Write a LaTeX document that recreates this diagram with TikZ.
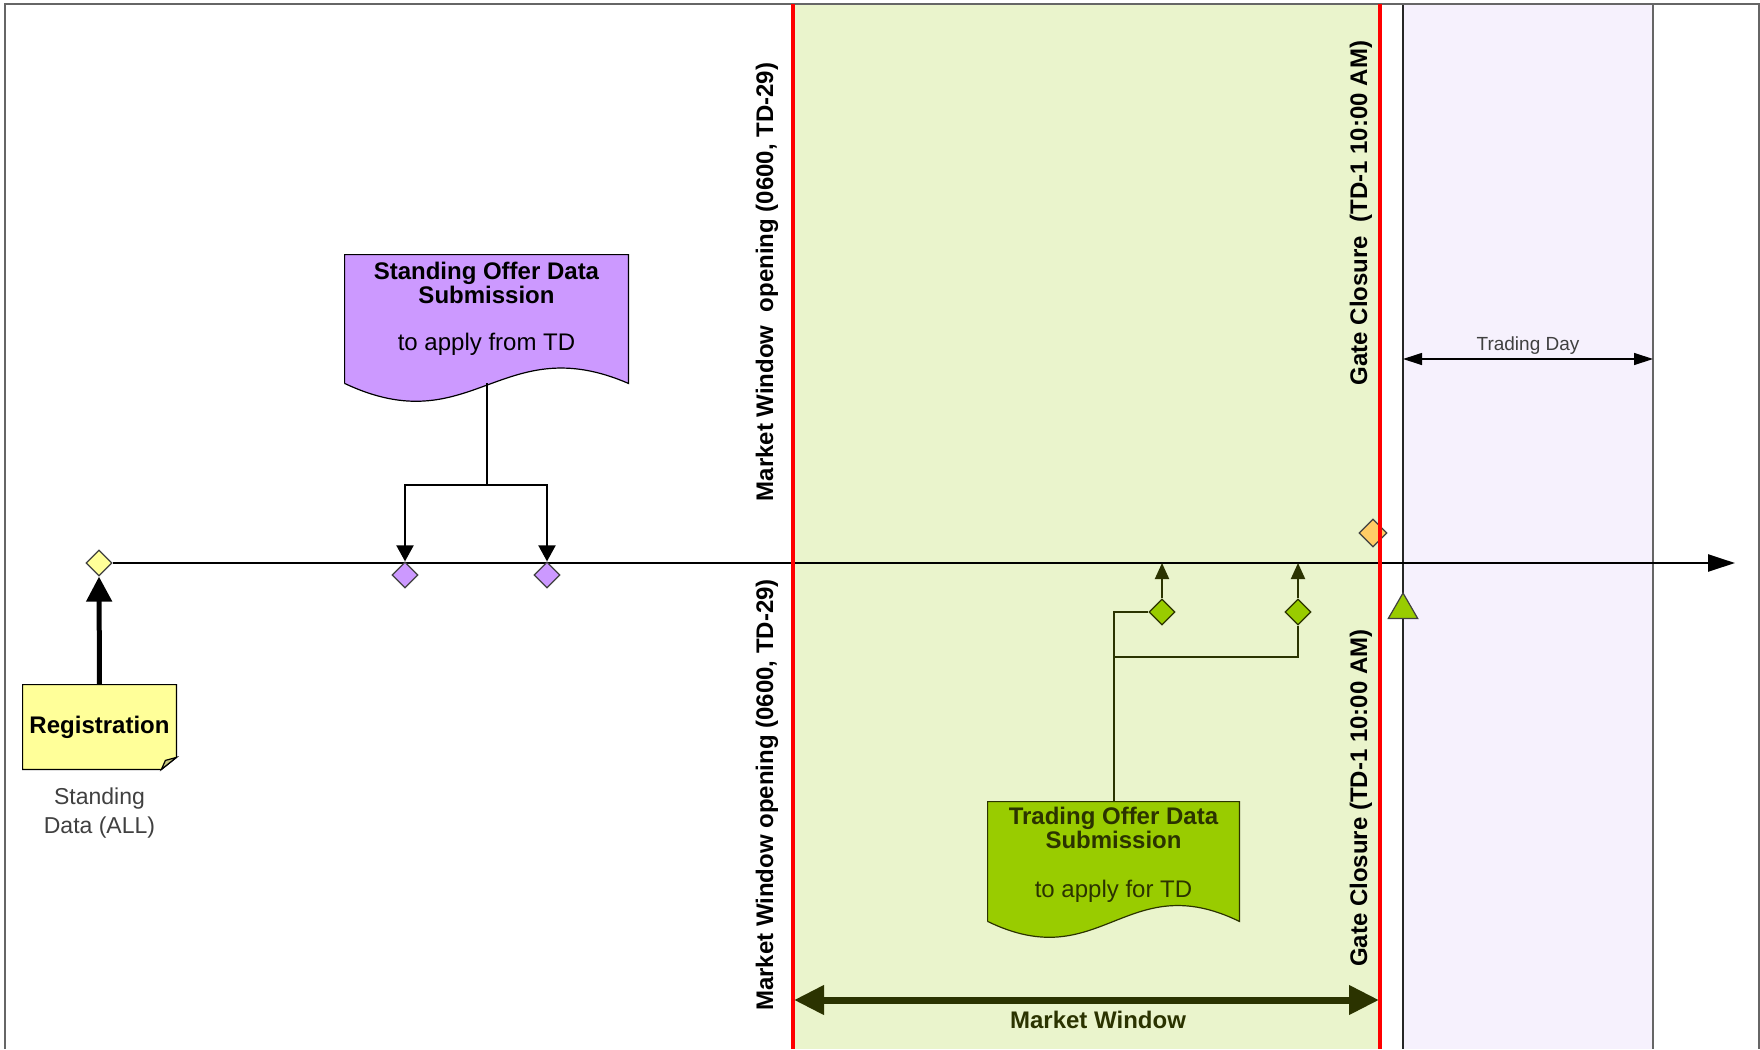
\documentclass[tikz,border=0pt]{standalone}
\usepackage{fontspec}
\setmainfont{Liberation Sans}
\usepackage{xcolor}
\usetikzlibrary{shapes,calc,arrows.meta,positioning}
\definecolor{mwgreen}{HTML}{EAF4CC}
\definecolor{tdpurple}{HTML}{F6F1FD}
\definecolor{mpurple}{HTML}{CC99FF}
\definecolor{mlime}{HTML}{99CC00}
\definecolor{myellow}{HTML}{FFFF99}
\definecolor{morange}{HTML}{FFCC66}
\definecolor{mdark}{HTML}{2B3300}
\definecolor{mgray}{HTML}{404040}
\tikzstyle{l2}=[line width=0.6pt]
\tikzstyle{ms}=[diamond, draw=mgray, l2, inner sep=0pt, minimum width=13pt, minimum height=13pt]
\tikzstyle{vlabel}=[rotate=90, font=\fontsize{12}{14}\selectfont\bfseries]
\tikzstyle{doctext}=[align=center, inner sep=0.8pt, font=\fontsize{12}{12}\selectfont]
\tikzstyle{redline}=[line width=2pt, red]
\tikzstyle{parr}=[line width=1pt, -{Triangle[length=8pt,width=8.5pt]}]
\tikzstyle{gline}=[line width=1pt, mdark]
\tikzstyle{garr}=[gline, -{Triangle[length=8pt,width=7pt]}]

\begin{document}
\begin{tikzpicture}[x=0.5pt, y=-0.5pt]
    \useasboundingbox (0,0) rectangle (1760,1049);
    % market window and trading day bands
    \fill[mwgreen] (793,4) rectangle (1380,1049);
    \fill[tdpurple] (1403,4) rectangle (1653,1049);
    \draw[l2, black!85] (1403,4) -- (1403,1049);
    \draw[l2, black!60] (1653,4) -- (1653,1049);
    \draw[line width=1pt, black!60] (5,1049) -- (5,4) -- (1759,4) -- (1759,1049);

    % timeline
    \node[ms, fill=myellow] (reg) at (99,563) {};
    \coordinate (tlend) at (1735,563);
    \draw[line width=1.2pt, -{Triangle[length=13.5pt,width=8.5pt]}] (reg.east) -- (tlend);

    % registration note
    \node[minimum width=76.5pt, minimum height=42pt] (regb) at (99.5,727) {};
    \draw[l2, fill=myellow] (regb.south west) -- (regb.north west) -- (regb.north east)
        -- ($(regb.south east)+(0,-12)$) -- ($(regb.south east)+(-15,0)$) -- cycle;
    \draw[l2, fill=myellow!75!black!90] ($(regb.south east)+(0,-12)$) -- ($(regb.south east)+(-15,0)$)
        -- ($(regb.south east)+(-11,-9)$) -- cycle;
    \node[font=\fontsize{12}{12}\selectfont\bfseries] (regt) at (regb) {Registration};
    \node[align=center, text=mgray, font=\fontsize{11.5}{14.5}\selectfont, below=5.5pt of regb] (sdt) {Standing\\Data (ALL)};
    \draw[line width=2.5pt, -{Triangle[length=12.5pt,width=12.5pt]}] (regb.north) -- (reg.south);

    % standing offer data
    \node[ms, fill=mpurple] (pd1) at (405,575) {};
    \node[ms, fill=mpurple] (pd2) at (547,575) {};
    \node[minimum width=141.5pt, minimum height=64pt] (sod) at (486.5,319) {};
    \draw[l2, fill=mpurple] (sod.south west) -- (sod.north west) -- (sod.north east) -- (sod.south east)
        .. controls +(-127,-55) and +(127,60) .. (sod.south west);
    \node[doctext, below=3pt of sod.north] (sodt) {\textbf{Standing Offer Data}\\\textbf{Submission}\\[11.5pt]to apply from TD};
    \coordinate (pj) at (486.5,485);
    \draw[line width=1pt] (sod.south) -- (pj);
    \draw[parr] (pj) -| (pd1.north);
    \draw[parr] (pj) -| (pd2.north);

    % trading offer data
    \node[ms, draw=mdark, fill=mlime] (gd1) at (1162,612) {};
    \node[ms, draw=mdark, fill=mlime] (gd2) at (1298,612) {};
    \node[minimum width=125.5pt, minimum height=59.5pt] (tod) at (1113.5,861.5) {};
    \draw[l2, draw=mdark, fill=mlime] (tod.south west) -- (tod.north west) -- (tod.north east) -- (tod.south east)
        .. controls +(-113,-55) and +(113,55) .. (tod.south west);
    \node[doctext, text=mdark, below=1.7pt of tod.north] (todt) {\textbf{Trading Offer Data}\\\textbf{Submission}\\[12.3pt]to apply for TD};
    \coordinate (tj) at (1113.5,657);
    \draw[gline] (tod.north) |- (gd1.west);
    \draw[gline] (tj) -| (gd2.south);
    \draw[garr] (gd1.north) -- (gd1.north |- reg.east);
    \draw[garr] (gd2.north) -- (gd2.north |- reg.east);

    % gate closure and trading day start
    \node[ms, fill=morange, minimum width=14pt, minimum height=14pt] (gc) at (1373,533) {};
    \node[regular polygon, regular polygon sides=3, draw=mgray, l2, fill=mlime, minimum size=17pt, inner sep=0pt] (tds) at (1403,610) {};
    \draw[redline] (793,4) -- (793,1049);
    \draw[redline] (1380,4) -- (1380,1049);

    % spans
    \coordinate (tdl) at (1403,359);
    \coordinate (tdr) at (1653,359);
    \draw[l2, {Triangle[length=9.5pt,width=6pt]}-{Triangle[length=9.5pt,width=6pt]}] (tdl) -- (tdr);
    \node[anchor=base, text=mgray, font=\fontsize{9.5}{11}\selectfont] (tdt) at (1528,350) {Trading Day};
    \coordinate (mwl) at (794,1000);
    \coordinate (mwr) at (1379,1000);
    \draw[line width=3.5pt, mdark, {Triangle[length=15pt,width=14pt]}-{Triangle[length=15pt,width=14pt]}] (mwl) -- (mwr);
    \node[anchor=base, text=mdark, font=\fontsize{12}{14}\selectfont\bfseries] (mwt) at (1098,1028) {Market Window};

    % milestone labels
    \node[vlabel] (mwo1) at (767,282) {Market Window\ \ opening (0600, TD-29)};
    \node[vlabel] (mwo2) at (767,795) {Market Window opening (0600, TD-29)};
    \node[vlabel] (gc1) at (1361,213) {Gate Closure\ \ (TD-1 10:00 AM)};
    \node[vlabel] (gc2) at (1361,798) {Gate Closure (TD-1 10:00 AM)};
\end{tikzpicture}
\end{document}
